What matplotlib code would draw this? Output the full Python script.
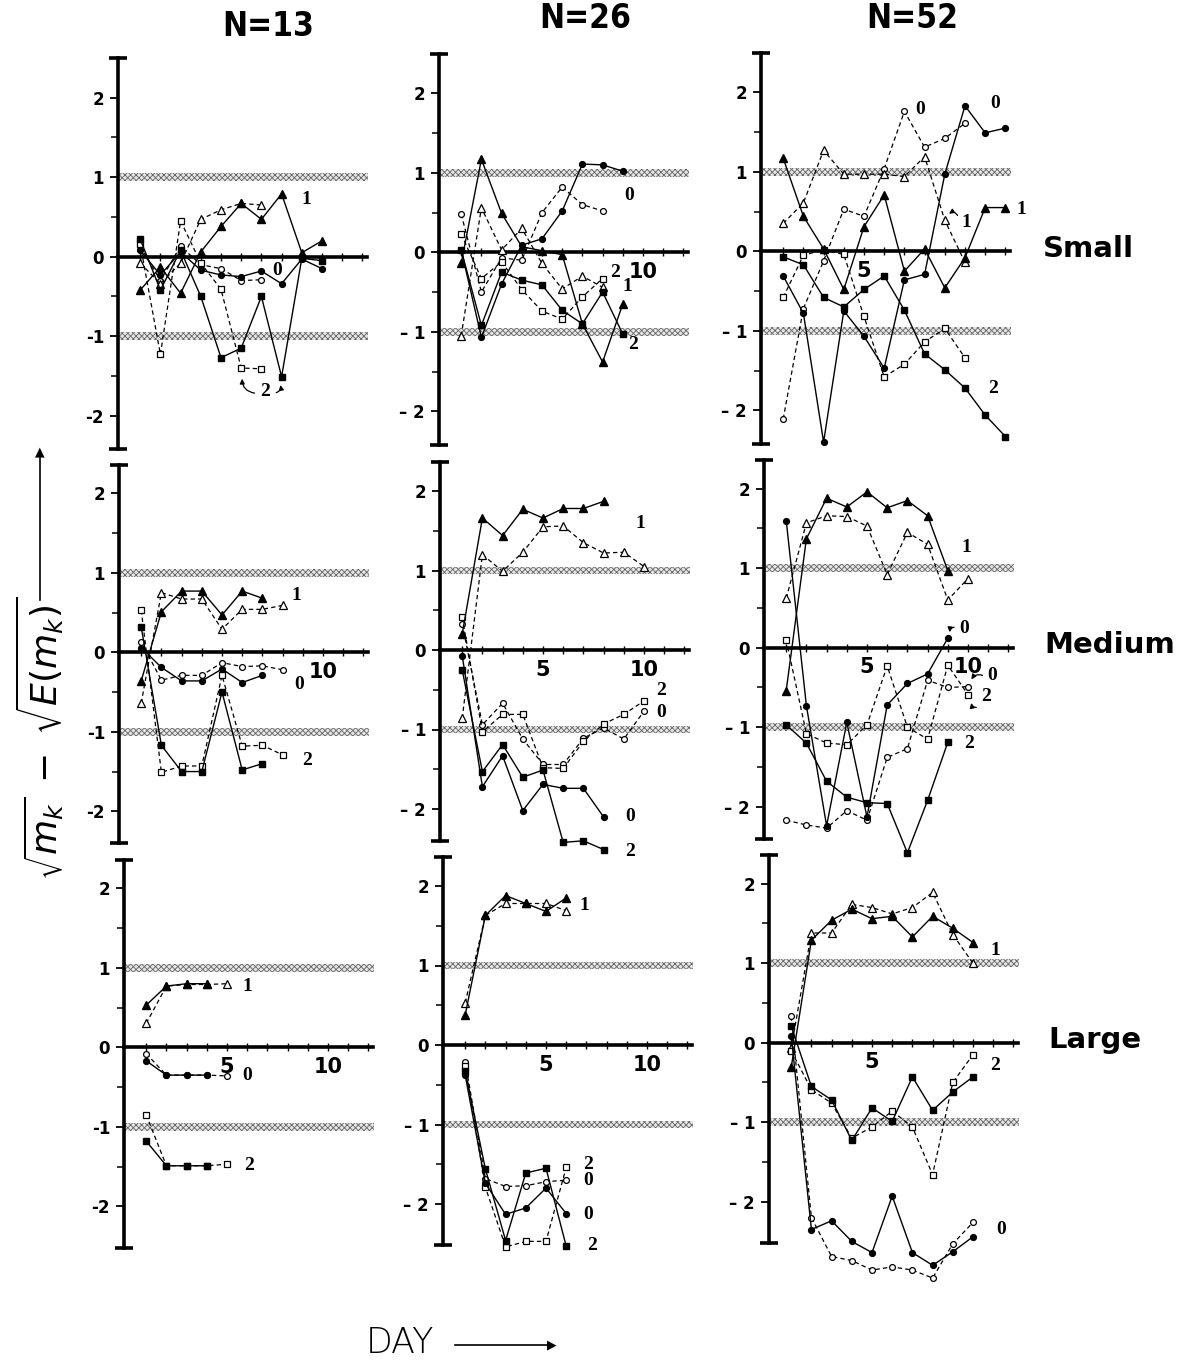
import matplotlib.pyplot as plt
from matplotlib.ticker import FixedLocator, FixedFormatter

# ---- data: sqrt(m_k) - sqrt(E(m_k)) per day, k = 0, 1, 2 ; f = filled (solid), o = open (dashed)
# Small, N = 13
s13_0f = [0.08, -0.23, 0.06, -0.17, -0.23, -0.25, -0.18, -0.34, -0.03, -0.15]
s13_0o = [0.13, -0.30, 0.13, -0.10, -0.15, -0.30, -0.29]
s13_1f = [-0.42, -0.13, -0.46, 0.06, 0.38, 0.67, 0.47, 0.79, 0.05, 0.20]
s13_1o = [-0.08, -0.34, -0.08, 0.47, 0.59, 0.67, 0.65]
s13_2f = [0.22, -0.42, 0.08, -0.50, -1.27, -1.15, -0.50, -1.51, -0.02, -0.05]
s13_2o = [0.16, -1.23, 0.45, -0.08, -0.41, -1.40, -1.41]
# Small, N = 26
s26_0f = [0.03, -1.07, -0.40, 0.09, 0.17, 0.52, 1.11, 1.10, 1.02]
s26_0o = [0.48, -0.50, -0.07, -0.10, 0.50, 0.82, 0.60, 0.52]
s26_1f = [-0.14, 1.17, 0.49, 0.07, 0.02, -0.03, -0.90, -1.38, -0.65]
s26_1o = [-1.05, 0.56, 0.03, 0.30, -0.14, -0.46, -0.30, -0.44]
s26_2f = [0.03, -0.92, -0.25, -0.35, -0.41, -0.73, -0.90, -0.50, -1.03]
s26_2o = [0.23, -0.33, -0.12, -0.47, -0.74, -0.84, -0.56, -0.33]
# Small, N = 52
s52_0f = [-0.31, -0.78, -2.40, -0.75, -1.07, -1.47, -0.36, -0.29, 0.97, 1.83, 1.49, 1.55]
s52_0o = [-2.11, -0.72, -0.12, 0.53, 0.44, 1.04, 1.76, 1.31, 1.42, 1.61]
s52_1f = [1.17, 0.44, 0.03, -0.48, 0.31, 0.71, -0.25, 0.03, -0.46, -0.08, 0.55, 0.55]
s52_1o = [0.35, 0.61, 1.27, 0.97, 0.97, 0.97, 0.94, 1.19, 0.39, -0.14]
s52_2f = [-0.07, -0.17, -0.58, -0.70, -0.48, -0.31, -0.74, -1.29, -1.49, -1.72, -2.06, -2.33]
s52_2o = [-0.58, -0.05, 0.02, -0.04, -0.82, -1.58, -1.42, -1.14, -0.97, -1.34]
# Medium, N = 13
m13_0f = [0.06, -0.19, -0.36, -0.36, -0.21, -0.38, -0.29]
m13_0o = [0.13, -0.35, -0.29, -0.29, -0.13, -0.18, -0.17, -0.22]
m13_1f = [-0.36, 0.51, 0.77, 0.77, 0.47, 0.77, 0.68]
m13_1o = [-0.64, 0.75, 0.67, 0.67, 0.29, 0.54, 0.54, 0.59]
m13_2f = [0.32, -1.17, -1.50, -1.50, -0.50, -1.48, -1.40]
m13_2o = [0.53, -1.51, -1.43, -1.43, -0.29, -1.18, -1.17, -1.29]
# Medium, N = 26
m26_0f = [-0.07, -1.72, -1.33, -2.02, -1.69, -1.74, -1.74, -2.10]
m26_0o = [0.33, -0.94, -0.67, -1.12, -1.44, -1.44, -1.11, -0.98, -1.12, -0.77]
m26_1f = [0.20, 1.66, 1.44, 1.77, 1.66, 1.78, 1.78, 1.87]
m26_1o = [-0.86, 1.20, 0.99, 1.23, 1.55, 1.56, 1.35, 1.22, 1.23, 1.05]
m26_2f = [-0.25, -1.53, -1.19, -1.60, -1.51, -2.42, -2.40, -2.51]
m26_2o = [0.41, -1.03, -0.81, -0.81, -1.48, -1.49, -1.15, -0.93, -0.81, -0.64]
# Medium, N = 52
m52_0f = [1.60, -0.73, -2.24, -0.94, -2.13, -0.72, -0.45, -0.33, 0.12]
m52_0o = [-2.17, -2.23, -2.27, -2.05, -2.17, -1.38, -1.27, -0.41, -0.50, -0.49]
m52_1f = [-0.54, 1.37, 1.88, 1.77, 1.96, 1.76, 1.85, 1.66, 0.97]
m52_1o = [0.62, 1.57, 1.66, 1.65, 1.53, 0.92, 1.45, 1.30, 0.60, 0.87]
m52_2f = [-0.97, -1.20, -1.68, -1.88, -1.95, -1.96, -2.58, -1.92, -1.19]
m52_2o = [0.10, -1.08, -1.20, -1.22, -0.97, -0.23, -1.00, -1.15, -0.22, -0.59]
# Large, N = 13
l13_0f = [-0.17, -0.35, -0.35, -0.35]
l13_0o = [-0.08, -0.35, -0.35, -0.35, -0.36]
l13_1f = [0.53, 0.77, 0.80, 0.80]
l13_1o = [0.30, 0.77, 0.79, 0.79, 0.80]
l13_2f = [-1.18, -1.49, -1.49, -1.49]
l13_2o = [-0.85, -1.49, -1.49, -1.49, -1.47]
# Large, N = 26
l26_0f = [-0.38, -1.74, -2.13, -2.05, -1.80, -2.12]
l26_0o = [-0.21, -1.68, -1.78, -1.77, -1.72, -1.70]
l26_1f = [0.38, 1.63, 1.88, 1.78, 1.68, 1.85]
l26_1o = [0.53, 1.63, 1.78, 1.78, 1.78, 1.69]
l26_2f = [-0.33, -1.56, -2.46, -1.61, -1.55, -2.53]
l26_2o = [-0.27, -1.79, -2.54, -2.47, -2.47, -1.54]
# Large, N = 52
l52_0f = [0.09, -2.35, -2.24, -2.50, -2.64, -1.93, -2.64, -2.80, -2.63, -2.44]
l52_0o = [0.33, -2.20, -2.69, -2.74, -2.86, -2.82, -2.86, -2.96, -2.53, -2.26]
l52_1f = [-0.31, 1.29, 1.54, 1.68, 1.56, 1.59, 1.33, 1.59, 1.44, 1.26]
l52_1o = [-0.07, 1.38, 1.38, 1.74, 1.70, 1.62, 1.70, 1.89, 1.36, 1.00]
l52_2f = [0.21, -0.55, -0.72, -1.23, -0.82, -0.99, -0.43, -0.85, -0.62, -0.43]
l52_2o = [-0.10, -0.59, -0.76, -1.20, -1.06, -0.86, -1.06, -1.66, -0.50, -0.15]

col_titles = ["N=13", "N=26", "N=52"]
row_titles = ["Small", "Medium", "Large"]

panels = [
    [[s13_0f, s13_0o, s13_1f, s13_1o, s13_2f, s13_2o],
     [s26_0f, s26_0o, s26_1f, s26_1o, s26_2f, s26_2o],
     [s52_0f, s52_0o, s52_1f, s52_1o, s52_2f, s52_2o]],
    [[m13_0f, m13_0o, m13_1f, m13_1o, m13_2f, m13_2o],
     [m26_0f, m26_0o, m26_1f, m26_1o, m26_2f, m26_2o],
     [m52_0f, m52_0o, m52_1f, m52_1o, m52_2f, m52_2o]],
    [[l13_0f, l13_0o, l13_1f, l13_1o, l13_2f, l13_2o],
     [l26_0f, l26_0o, l26_1f, l26_1o, l26_2f, l26_2o],
     [l52_0f, l52_0o, l52_1f, l52_1o, l52_2f, l52_2o]],
]

# curve labels (text, day, value)
curve_labels = [
    [[("1", 9.2, 0.72), ("0", 7.8, -0.17), ("2", 7.2, -1.69)],
     [("0", 9.3, 0.72), ("2", 8.6, -0.25), ("1", 9.2, -0.43), ("2", 9.5, -1.16)],
     [("0", 7.8, 1.78), ("0", 11.5, 1.86), ("1", 10.05, 0.36), ("1", 12.8, 0.53), ("2", 11.4, -1.72)]],
    [[("1", 8.7, 0.72), ("0", 8.8, -0.41), ("2", 9.2, -1.36)],
     [("1", 9.8, 1.59), ("2", 10.85, -0.51), ("0", 10.85, -0.79), ("0", 9.3, -2.09), ("2", 9.3, -2.53)],
     [("1", 9.9, 1.26), ("0", 9.8, 0.24), ("0", 11.2, -0.35), ("2", 10.9, -0.62), ("2", 10.05, -1.21)]],
    [[("1", 6.0, 0.77), ("0", 6.0, -0.36), ("2", 6.1, -1.49)],
     [("1", 6.9, 1.75), ("2", 7.1, -1.50), ("0", 7.1, -1.71), ("0", 7.1, -2.13), ("2", 7.3, -2.52)],
     [("1", 11.1, 1.16), ("2", 11.1, -0.29), ("0", 11.4, -2.35)]],
]
xtick_labels = [[[], [10], [5]], [[10], [5, 10], [5, 10]], [[5, 10], [5, 10], [5]]]

# ---- layout (pixels of the 1194 x 1363 picture)
W, H = 1194, 1363
PPD = 20.2      # pixels per day
UNIT = 79.5     # pixels per unit of y
day0_x = [[120, 441, 763], [121, 442, 766], [126, 445, 771]]
zero_y = [[256.7, 252.3, 251.3], [652.3, 650.0, 647.7], [1047.3, 1045.0, 1042.7]]
spine_lim = [(-2.42, 2.5), (-2.4, 2.36), (-2.52, 2.36)]
XL, XR = -0.4, 12.6
YB, YT = -3.1, 2.7

plt.rcParams['hatch.linewidth'] = 0.6
fig = plt.figure(figsize=(W / 100, H / 100), dpi=100)

markers = ['o', '^', 's']
msize = [4.2, 5.6, 4.6]

for r in range(3):
    for c in range(3):
        left = day0_x[r][c] + XL * PPD
        width = (XR - XL) * PPD
        top = zero_y[r][c] - YT * UNIT
        height = (YT - YB) * UNIT
        ax = fig.add_axes([left / W, 1 - (top + height) / H, width / W, height / H])
        ax.set_xlim(XL, XR)
        ax.set_ylim(YB, YT)
        ax.patch.set_alpha(0)

        # stippled bands at +-1
        for yb in (1.0, -1.0):
            ax.fill_between([-0.1, 12.3], yb - 0.05, yb + 0.05, facecolor='#e6e6e6',
                            edgecolor='#666666', hatch='xxxxxx', linewidth=0, zorder=1)

        # spines
        y0, y1 = spine_lim[r]
        for s in ('top', 'right'):
            ax.spines[s].set_visible(False)
        ax.spines['left'].set_position(('data', -0.1))
        ax.spines['left'].set_bounds(y0, y1)
        ax.spines['left'].set_linewidth(2.6)
        ax.spines['bottom'].set_position(('data', 0))
        ax.spines['bottom'].set_bounds(-0.1, 12.25)
        ax.spines['bottom'].set_linewidth(2.6)
        ax.plot([-0.1, -0.1], [y0, y1], ls='none', marker='_', ms=13, mew=2.6,
                color='black', clip_on=False)

        ax.yaxis.set_major_locator(FixedLocator([-2, -1, 0, 1, 2]))
        if c == 0:
            ylabs = ['-2', '-1', '0', '1', '2']
        else:
            ylabs = ['\u2013 2', '\u2013 1', '0', '1', '2']
        ax.yaxis.set_major_formatter(FixedFormatter(ylabs))
        ax.yaxis.set_minor_locator(FixedLocator([-1.5, -0.5, 0.5, 1.5]))
        ax.tick_params(axis='y', which='major', direction='out', length=6, width=1.3,
                       labelsize=12, pad=4)
        ax.tick_params(axis='y', which='minor', direction='out', length=5, width=1.1)
        for t in ax.get_yticklabels():
            t.set_fontweight('bold')

        xt = list(range(1, 13))
        ax.xaxis.set_major_locator(FixedLocator(xt))
        ax.xaxis.set_major_formatter(FixedFormatter(
            [str(d) if d in xtick_labels[r][c] else '' for d in xt]))
        ax.tick_params(axis='x', direction='inout', length=6, width=1.0,
                       labelsize=15, pad=4)
        for t in ax.get_xticklabels():
            t.set_fontweight('bold')

        # series
        for i, vals in enumerate(panels[r][c]):
            k = i // 2
            filled = (i % 2 == 0)
            days = list(range(1, len(vals) + 1))
            if filled:
                ax.plot(days, vals, color='black', lw=1.0, ls='-', marker=markers[k],
                        ms=msize[k], mfc='black', mec='black', zorder=4)
            else:
                ax.plot(days, vals, color='black', lw=0.9, ls=(0, (3.5, 2.5)),
                        marker=markers[k], ms=msize[k], mfc='white', mec='black',
                        mew=0.9, zorder=3)

        for txt, xd, yv in curve_labels[r][c]:
            ax.text(xd, yv, txt, fontsize=14, fontweight='bold',
                    family=['Liberation Serif', 'DejaVu Serif'],
                    ha='center', va='center', zorder=6)

        # small curved pointer arrows
        arr = dict(arrowstyle='-|>', lw=0.9, color='black', mutation_scale=7)
        if (r, c) == (0, 0):
            ax.annotate('', xy=(6.05, -1.5), xytext=(6.8, -1.72),
                        arrowprops=dict(arr, connectionstyle='arc3,rad=-0.5'))
            ax.annotate('', xy=(7.9, -1.58), xytext=(7.6, -1.72),
                        arrowprops=dict(arr, connectionstyle='arc3,rad=0.6'))
        if (r, c) == (0, 2):
            ax.annotate('', xy=(9.1, 0.45), xytext=(9.7, 0.42),
                        arrowprops=dict(arr, connectionstyle='arc3,rad=0.7'))
        if (r, c) == (1, 2):
            ax.annotate('', xy=(9.1, 0.16), xytext=(9.45, 0.26),
                        arrowprops=dict(arr, connectionstyle='arc3,rad=0.6'))
            ax.annotate('', xy=(10.1, -0.43), xytext=(10.85, -0.36),
                        arrowprops=dict(arr, connectionstyle='arc3,rad=0.5'))
            ax.annotate('', xy=(10.15, -0.66), xytext=(10.55, -0.75),
                        arrowprops=dict(arr, connectionstyle='arc3,rad=-0.6'))

# column titles
for c, (tx, ty) in enumerate([(268, 26), (585, 19), (912, 19)]):
    fig.text(tx / W, 1 - ty / H, col_titles[c], fontsize=24, fontweight='bold',
             fontstretch='condensed',
             family=['DejaVu Sans Condensed', 'Liberation Sans Narrow', 'DejaVu Sans'],
             ha='center', va='center')

# row titles
for r, (tx, ty) in enumerate([(1088, 249), (1110, 645), (1095, 1040)]):
    fig.text(tx / W, 1 - ty / H, row_titles[r], fontsize=21, fontweight='bold',
             ha='center', va='center')

# y label with arrow
fig.text(40 / W, 1 - 738 / H, r'$\sqrt{m_k}\;-\;\sqrt{E(m_k)}$', fontsize=26,
         rotation=90, ha='center', va='center')
fig.add_artist(plt.Line2D([40 / W, 40 / W], [1 - 600 / H, 1 - 458 / H], color='black', lw=1.2))
fig.text(40 / W, 1 - 452 / H, '\u25B2', fontsize=9, ha='center', va='center')

# x label with arrow
fig.text(400 / W, 1 - 1343 / H, 'DAY', fontsize=25, fontweight='light',
         ha='center', va='center')
fig.add_artist(plt.Line2D([455 / W, 548 / W], [1 - 1345 / H, 1 - 1345 / H], color='black', lw=1.2))
fig.text(552 / W, 1 - 1345 / H, '\u25B6', fontsize=9, ha='center', va='center')

fig.savefig('out.png', dpi=100)
